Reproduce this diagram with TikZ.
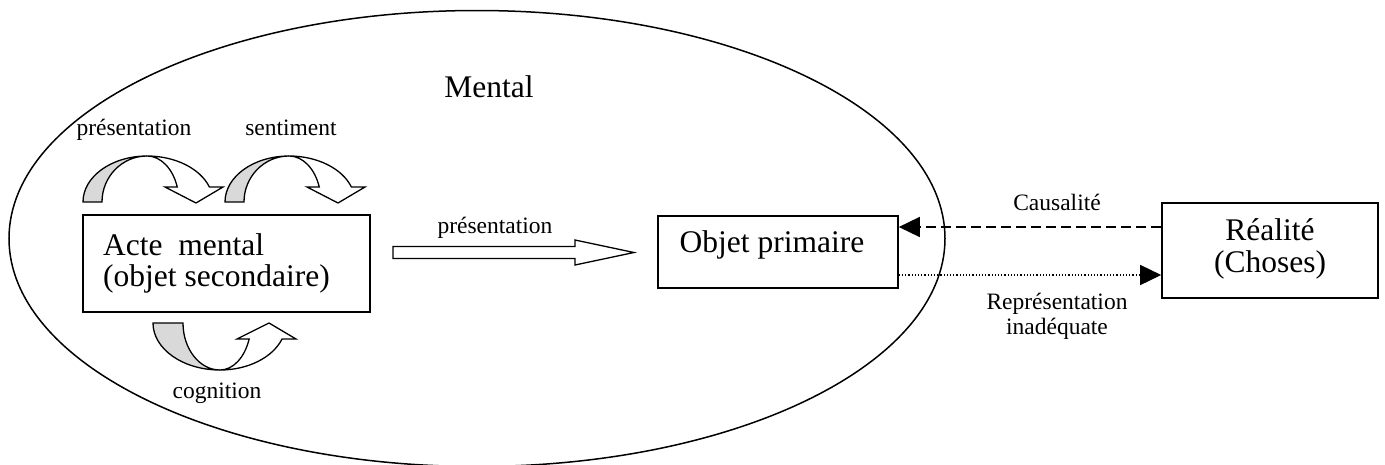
\documentclass[tikz,border=0pt]{standalone}
\usepackage{fontspec}
\setmainfont{Liberation Serif}
\usetikzlibrary{arrows.meta}
\definecolor{bandgray}{RGB}{217,217,217}
\tikzset{
  boxnode/.style={draw, line width=1.6pt, inner sep=0pt},
  bigtxt/.style={font=\fontsize{31.5}{31}\selectfont, inner sep=0pt},
  smalltxt/.style={font=\fontsize{23.5}{26}\selectfont, inner sep=0pt},
  band/.style={draw, line width=1.3pt, line join=miter},
  tri/.style={-{Triangle[length=21pt,width=20pt]}, line width=1.5pt},
}
\begin{document}
\begin{tikzpicture}[x=1pt,y=-1pt]
\useasboundingbox (0,0) rectangle (1385,464);
\draw[line width=1.5pt] (477,238.5) ellipse [x radius=468, y radius=228];

% boxes
\node[boxnode, minimum width=287pt, minimum height=97pt] (acte) at (226.5,263.5) {};
\node[bigtxt, anchor=base west] (acteA) at (103,255) {Acte\ \ mental};
\node[bigtxt, anchor=base west] (acteB) at (103,286) {(objet secondaire)};

\node[boxnode, minimum width=240pt, minimum height=72pt] (objet) at (778,252) {};
\node[bigtxt, anchor=base] (objetT) at (772,252) {Objet primaire};

\node[boxnode, minimum width=216pt, minimum height=95pt] (real) at (1270,250.5) {};
\node[bigtxt, anchor=base] (realA) at (1270,240) {Réalité};
\node[bigtxt, anchor=base] (realB) at (1270,272) {(Choses)};

% labels
\node[bigtxt, anchor=base] (mental) at (489,97) {Mental};
\node[smalltxt, anchor=base] (lp1) at (134,135) {présentation};
\node[smalltxt, anchor=base] (ls) at (291,135) {sentiment};
\node[smalltxt, anchor=base] (lc) at (217,398) {cognition};
\node[smalltxt, anchor=base] (lp2) at (495,233) {présentation};
\node[smalltxt, anchor=base] (lcaus) at (1057,210) {Causalité};
\node[smalltxt, anchor=base] (lrep1) at (1057,309) {Représentation};
\node[smalltxt, anchor=base] (lrep2) at (1057,334) {inadéquate};

% connectors
\coordinate (yc) at (0,227);
\coordinate (yr) at (0,275);
\draw[tri, dash pattern=on 10pt off 5pt] (real.west |- yc) -- (objet.east |- yc);
\draw[tri, dash pattern=on 1.2pt off 2pt] (objet.east |- yr) -- (real.west |- yr);

% block arrow
\draw[band, fill=white] (393,246.5) -- (575,246.5) -- (575,240) -- (634,252.5)
  -- (575,265) -- (575,258.5) -- (393,258.5) -- cycle;

% curved arrows (top)
\foreach \dx in {0,142}{
  \begin{scope}[xshift=\dx pt]
    \filldraw[band, fill=bandgray] (83,202)
      arc[start angle=180, end angle=270, x radius=64, y radius=46]
      arc[start angle=270, end angle=180, x radius=45, y radius=46] -- cycle;
    \filldraw[band, fill=white] (147,156)
      arc[start angle=270, end angle=341, x radius=66, y radius=46]
      -- (223,187) -- (196,203) -- (165,187) -- (177.26,187)
      arc[start angle=341, end angle=270, x radius=32, y radius=46] -- cycle;
  \end{scope}
}

% curved arrow (bottom)
\filldraw[band, fill=bandgray] (153,323)
  arc[start angle=180, end angle=90, x radius=67, y radius=47]
  arc[start angle=90, end angle=180, x radius=37, y radius=47] -- cycle;
\filldraw[band, fill=white] (220,370)
  arc[start angle=90, end angle=20, x radius=66, y radius=47]
  -- (296,339) -- (269,323) -- (237,339) -- (249.13,339.07)
  arc[start angle=20, end angle=90, x radius=31, y radius=47] -- cycle;
\end{tikzpicture}
\end{document}
